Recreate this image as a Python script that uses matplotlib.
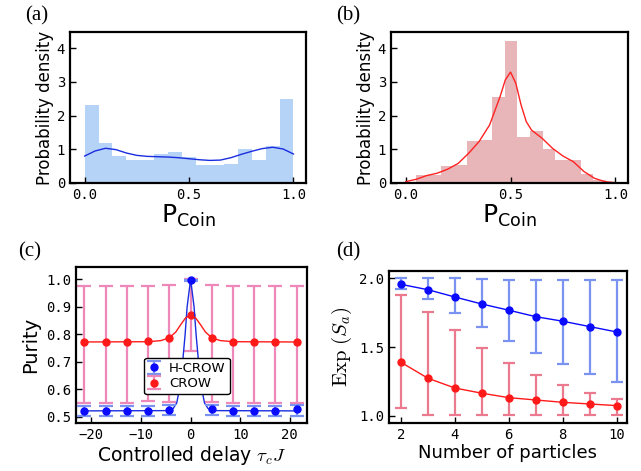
import numpy as np
import matplotlib
matplotlib.use('Agg')
import matplotlib.pyplot as plt

plt.rcParams['font.family'] = 'DejaVu Sans'
plt.rcParams['mathtext.fontset'] = 'dejavusans'

# (a) histogram + kde of P_coin, H-CROW
a_edges = np.linspace(0.0, 1.0, 16)
a_heights = [2.31, 1.18, 0.81, 0.67, 0.67, 0.87, 0.91, 0.77, 0.54, 0.54,
             0.57, 1.02, 0.69, 1.11, 2.48]
a_kde_x = [0.0, 0.05, 0.1, 0.15, 0.2, 0.25, 0.3, 0.35, 0.4, 0.45, 0.5,
           0.55, 0.6, 0.65, 0.7, 0.75, 0.8, 0.85, 0.9, 0.95, 1.0]
a_kde_y = [0.80, 0.95, 1.03, 0.99, 0.89, 0.82, 0.79, 0.78, 0.77, 0.75, 0.72,
           0.69, 0.67, 0.68, 0.75, 0.85, 0.94, 1.02, 1.06, 1.01, 0.86]

# (b) histogram + kde of P_coin, CROW
b_edges = np.linspace(0.05, 0.955, 16)
b_heights = [0.23, 0.23, 0.49, 0.54, 1.26, 1.28, 2.56, 4.22, 1.37, 1.54,
             1.00, 0.68, 0.68, 0.27, 0.09]
b_kde_x = [0.0, 0.05, 0.1, 0.15, 0.2, 0.25, 0.3, 0.35, 0.4, 0.45, 0.475, 0.5,
           0.525, 0.55, 0.575, 0.6, 0.65, 0.7, 0.75, 0.8, 0.85, 0.9, 0.95, 1.0]
b_kde_y = [0.04, 0.11, 0.22, 0.29, 0.41, 0.58, 0.88, 1.23, 1.72, 2.56, 3.06, 3.29,
           2.96, 2.32, 1.82, 1.57, 1.33, 1.03, 0.80, 0.63, 0.34, 0.14, 0.04, 0.01]

# (c) purity vs controlled delay
c_x = [-21.4, -17.1, -12.8, -8.6, -4.3, 0.0, 4.3, 8.6, 12.8, 17.1, 21.4]
c_hcrow = [0.521, 0.522, 0.521, 0.520, 0.525, 0.997, 0.527, 0.521, 0.521, 0.521, 0.527]
c_hcrow_lo = [0.503, 0.503, 0.503, 0.503, 0.506, 0.995, 0.507, 0.503, 0.503, 0.503, 0.503]
c_hcrow_hi = [0.539, 0.539, 0.539, 0.539, 0.541, 0.999, 0.543, 0.539, 0.539, 0.539, 0.541]
c_crow = [0.772, 0.773, 0.773, 0.775, 0.788, 0.869, 0.787, 0.773, 0.773, 0.773, 0.773]
c_crow_lo = [0.551, 0.551, 0.551, 0.556, 0.552, 0.739, 0.552, 0.551, 0.551, 0.551, 0.551]
c_crow_hi = [0.975, 0.975, 0.975, 0.975, 0.978, 1.000, 0.978, 0.975, 0.975, 0.975, 0.975]
c_fit_x = [-21.4, -4.3, -3.5, -2.8, -2.25, -1.6, -1.1, -0.7, 0.0,
           0.7, 1.1, 1.6, 2.25, 2.8, 3.5, 4.3, 21.4]
c_fit_hcrow = [0.521, 0.522, 0.53, 0.55, 0.60, 0.70, 0.80, 0.90, 1.0,
               0.90, 0.80, 0.70, 0.60, 0.55, 0.53, 0.522, 0.521]
c_fit_x2 = [-21.4, -8.6, -6.0, -4.3, -3.0, -2.0, -1.0, 0.0,
            1.0, 2.0, 3.0, 4.3, 6.0, 8.6, 21.4]
c_fit_crow = [0.772, 0.773, 0.777, 0.787, 0.808, 0.835, 0.860, 0.869,
              0.860, 0.835, 0.808, 0.787, 0.777, 0.773, 0.772]

# (d) Exp(S_a) vs number of particles
d_n = [2, 3, 4, 5, 6, 7, 8, 9, 10]
d_hcrow = [1.956, 1.917, 1.864, 1.813, 1.768, 1.721, 1.688, 1.649, 1.610]
d_hcrow_lo = [1.920, 1.847, 1.746, 1.649, 1.545, 1.460, 1.380, 1.307, 1.249]
d_hcrow_hi = [2.000, 2.000, 2.000, 1.998, 1.990, 1.990, 1.990, 1.985, 1.985]
d_crow = [1.390, 1.274, 1.203, 1.165, 1.133, 1.116, 1.099, 1.087, 1.075]
d_crow_lo = [1.060, 1.007, 1.005, 1.005, 1.005, 1.005, 1.005, 1.005, 1.005]
d_crow_hi = [1.879, 1.755, 1.622, 1.491, 1.385, 1.298, 1.223, 1.167, 1.123]

fig = plt.figure(figsize=(6.41, 4.71), dpi=100)
W, H = 641.0, 471.0
axa = fig.add_axes([70 / W, 1 - 183 / H, 236 / W, 151 / H])
axb = fig.add_axes([391 / W, 1 - 183 / H, 237 / W, 151 / H])
axc = fig.add_axes([76 / W, 1 - 422.7 / H, 230.7 / W, 155.4 / H])
axd = fig.add_axes([389.3 / W, 1 - 422.7 / H, 237.4 / W, 152 / H])


def style(ax):
    for s in ax.spines.values():
        s.set_linewidth(1.6)
    ax.tick_params(direction='in', length=4, width=1, labelsize=10)
    for lab in ax.get_xticklabels() + ax.get_yticklabels():
        lab.set_family('DejaVu Sans Mono')


# (a)
axa.bar(a_edges[:-1], a_heights, width=np.diff(a_edges), align='edge',
        color='#B5D2F7', linewidth=0)
axa.plot(a_kde_x, a_kde_y, color='#1a2ee0', lw=1)
axa.set_xlim(-0.07, 1.06)
axa.set_ylim(0, 4.48)
axa.set_xticks([0.0, 0.5, 1.0])
axa.set_yticks([0, 1, 2, 3, 4])
axa.set_ylabel('Probability density', fontsize=12, labelpad=2)
axa.set_xlabel(r'$\mathregular{P_{Coin}}$', fontsize=18, labelpad=1)
style(axa)

# (b)
axb.bar(b_edges[:-1], b_heights, width=np.diff(b_edges), align='edge',
        color='#E8B6B8', linewidth=0)
axb.plot(b_kde_x, b_kde_y, color='#ff2222', lw=1)
axb.set_xlim(-0.07, 1.06)
axb.set_ylim(0, 4.48)
axb.set_xticks([0.0, 0.5, 1.0])
axb.set_yticks([0, 1, 2, 3, 4])
axb.set_ylabel('Probability density', fontsize=12, labelpad=2)
axb.set_xlabel(r'$\mathregular{P_{Coin}}$', fontsize=18, labelpad=1)
style(axb)

# (c)
c_hcrow_a = np.array(c_hcrow)
c_crow_a = np.array(c_crow)
axc.plot(c_fit_x, c_fit_hcrow, color='#1a2ee0', lw=1, zorder=3)
axc.plot(c_fit_x2, c_fit_crow, color='#ff1a1a', lw=1, zorder=3)
axc.errorbar(c_x, c_crow,
             yerr=[c_crow_a - np.array(c_crow_lo), np.array(c_crow_hi) - c_crow_a],
             fmt='o', color='#ff1a1a', ms=5, ecolor='#EE88B8', elinewidth=1.6,
             capsize=5, capthick=1.6, label='CROW', zorder=2)
axc.errorbar(c_x, c_hcrow,
             yerr=[c_hcrow_a - np.array(c_hcrow_lo), np.array(c_hcrow_hi) - c_hcrow_a],
             fmt='o', color='#0a0aff', ms=5, ecolor='#7B93F0', elinewidth=1.6,
             capsize=5, capthick=1.6, label='H-CROW', zorder=4)
axc.set_xlim(-23.1, 23.4)
axc.set_ylim(0.478, 1.044)
axc.set_xticks([-20, -10, 0, 10, 20])
axc.set_yticks([0.5, 0.6, 0.7, 0.8, 0.9, 1.0])
axc.set_ylabel('Purity', fontsize=14, labelpad=4)
axc.set_xlabel(r'Controlled delay $\tau_c J$', fontsize=13.5, labelpad=2,
               math_fontfamily='cm')
handles, labels = axc.get_legend_handles_labels()
leg = axc.legend(handles[::-1], labels[::-1], loc='center', bbox_to_anchor=(0.48, 0.30),
                 fontsize=9.5, handlelength=1.0, handletextpad=0.6, borderpad=0.3,
                 labelspacing=0.2, fancybox=True, framealpha=1)
leg.get_frame().set_edgecolor('black')
leg.get_frame().set_linewidth(1.0)
style(axc)

# (d)
d_hcrow_a = np.array(d_hcrow)
d_crow_a = np.array(d_crow)
axd.errorbar(d_n, d_hcrow,
             yerr=[d_hcrow_a - np.array(d_hcrow_lo), np.array(d_hcrow_hi) - d_hcrow_a],
             fmt='-o', color='#0a0aff', lw=1, ms=5, ecolor='#7B93F0', elinewidth=1.6,
             capsize=4, capthick=1.6)
axd.errorbar(d_n, d_crow,
             yerr=[d_crow_a - np.array(d_crow_lo), np.array(d_crow_hi) - d_crow_a],
             fmt='-o', color='#ff1a1a', lw=1, ms=5, ecolor='#EC7A8E', elinewidth=1.6,
             capsize=4, capthick=1.6)
axd.set_xlim(1.57, 10.37)
axd.set_ylim(0.951, 2.055)
axd.set_xticks([2, 4, 6, 8, 10])
axd.set_yticks([1.0, 1.5, 2.0])
axd.set_ylabel(r'$\mathrm{Exp}\ (S_a)$', fontsize=15, labelpad=4, math_fontfamily='cm')
axd.set_xlabel('Number of particles', fontsize=13, labelpad=2)
style(axd)

# panel letters
for x, y, t in [(25, 16, '(a)'), (336, 16, '(b)'), (18, 252, '(c)'), (336, 252, '(d)')]:
    fig.text(x / W, 1 - y / H, t, family='Liberation Serif', fontsize=15,
             ha='left', va='center')

fig.savefig('out.png', dpi=100)
